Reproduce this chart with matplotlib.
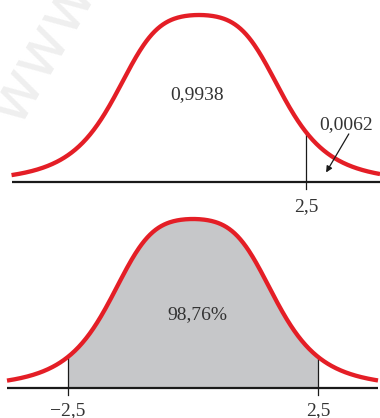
import numpy as np
import matplotlib
matplotlib.use("Agg")
import matplotlib.pyplot as plt

# Datos del gráfico
z_limite = 2.5
etiqueta_area_sup = "0,9938"
etiqueta_cola = "0,0062"
etiqueta_area_inf = "98,76%"
ticks_sup = [2.5]
etiquetas_sup = ["2,5"]
ticks_inf = [-2.5, 2.5]
etiquetas_inf = ["\u22122,5", "2,5"]

# Forma de la campana dibujada (ancho distinto en cada panel)
ancho_sup = 2.336
ancho_inf = 1.98
coef_cuad = 0.3
coef_pot = 1.49
forma = 4.18


def campana(x, a):
    # campana de dibujo: cima redondeada y colas largas
    u = np.abs(x / a)
    return 1 / (1 + coef_cuad * u**2 + coef_pot * u**forma)


rojo = "#e41e26"
gris = "#c6c7c9"
texto = "#333333"
fuente = "Liberation Serif"

fig = plt.figure(figsize=(3.8, 4.18), dpi=100)
fig.patch.set_facecolor("white")

# Marca de agua
fig.text(0.11, 0.88, "www", rotation=60, fontsize=46, color="#efefef",
         ha="center", va="center", family="DejaVu Sans")

# ---- Panel superior ----
ax1 = fig.add_axes([0, 1 - 210 / 418, 1, 210 / 418])
ax1.set_xlim(-199 / 42.8, 181 / 42.8)
ax1.set_ylim(-27.5 / 167.5, 182.5 / 167.5)
ax1.axis("off")
ax1.patch.set_alpha(0)

x1 = np.linspace(-4.38, 4.23, 400)
ax1.plot([-4.38, 4.23], [0, 0], color="#1a1a1a", lw=1.6, solid_capstyle="butt")
ax1.plot([z_limite, z_limite], [-0.04, campana(z_limite, ancho_sup)], color="#1a1a1a", lw=0.9)
ax1.plot(x1, campana(x1, ancho_sup), color=rojo, lw=3.1, solid_capstyle="butt")

ax1.text(-0.05, 0.5, etiqueta_area_sup, ha="center", va="baseline",
         fontsize=14, family=fuente, color=texto)
ax1.text(3.43, 0.321, etiqueta_cola, ha="center", va="baseline",
         fontsize=14, family=fuente, color=texto)
ax1.annotate("", xy=(2.97, 0.06), xytext=(3.5, 0.29),
             arrowprops=dict(arrowstyle="-|>", color="#1a1a1a", lw=0.9,
                             mutation_scale=9, shrinkA=0, shrinkB=0))
for t, lab in zip(ticks_sup, etiquetas_sup):
    ax1.text(t, -0.173, lab, ha="center", va="baseline",
             fontsize=14, family=fuente, color=texto)

# ---- Panel inferior ----
ax2 = fig.add_axes([0, 0, 1, 1 - 210 / 418])
ax2.set_xlim(-193 / 50, 187 / 50)
ax2.set_ylim(-30 / 169, 178 / 169)
ax2.axis("off")
ax2.patch.set_alpha(0)

x2 = np.linspace(-3.72, 3.7, 400)
xs = np.linspace(-z_limite, z_limite, 300)
ax2.fill_between(xs, 0, campana(xs, ancho_inf), color=gris, lw=0)
ax2.plot([-3.72, 3.7], [0, 0], color="#1a1a1a", lw=1.6, solid_capstyle="butt")
for t in ticks_inf:
    ax2.plot([t, t], [-0.04, campana(t, ancho_inf)], color="#1a1a1a", lw=0.9)
ax2.plot(x2, campana(x2, ancho_inf), color=rojo, lw=3.1, solid_capstyle="butt")

ax2.text(0.08, 0.41, etiqueta_area_inf, ha="center", va="baseline",
         fontsize=14, family=fuente, color=texto)
for t, lab in zip(ticks_inf, etiquetas_inf):
    ax2.text(t, -0.162, lab, ha="center", va="baseline",
             fontsize=14, family=fuente, color=texto)

fig.savefig("out.png", dpi=100)
